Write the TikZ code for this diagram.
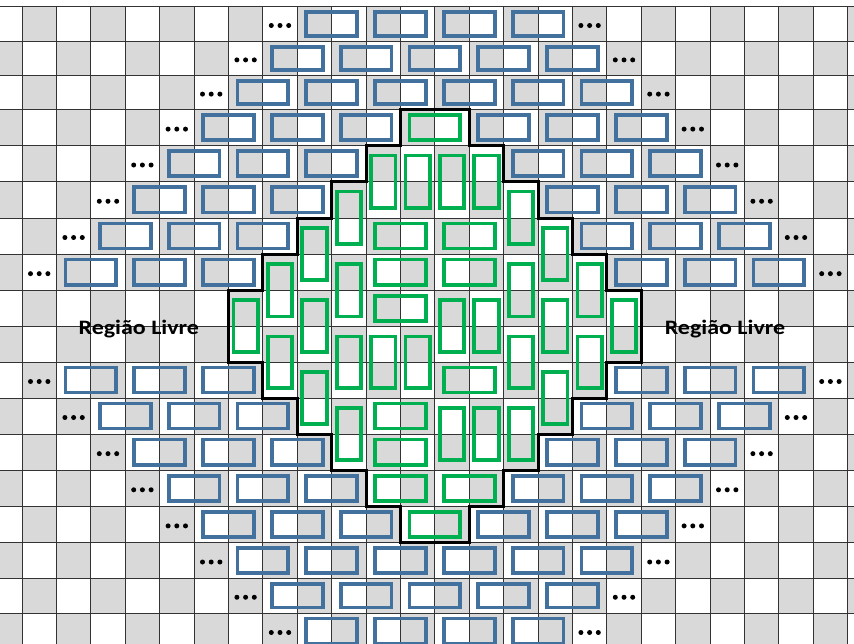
\documentclass[tikz,border=0pt]{standalone}
\usepackage{graphicx}
\usepackage{fontspec}
\setmainfont{Carlito}
\definecolor{cellgray}{HTML}{D9D9D9}
\definecolor{domblue}{HTML}{41719C}
\definecolor{domgreen}{HTML}{00B050}
\def\RY{{6.7,41.3,75.5,109.7,145.5,181.5,218,254,290.3,326.5,362,398,434,470.3,506.3,542.5,578.5,613,649}}
\tikzset{
  bluebox/.style={draw=domblue,line width=3.8pt},
  greenbox/.style={draw=domgreen,line width=3.8pt},
  gridline/.style={draw=black!80,line width=0.9pt},
  border/.style={draw=black,line width=3pt,line join=miter},
  dotmark/.style={fill=black},
  freelabel/.style={font=\bfseries\fontsize{20.5}{24}\selectfont,inner sep=0pt,anchor=base}
}
% horizontal domino (blue or green): #1 style, #2 row, #3 left column
\newcommand\hdomino[3]{%
  \pgfmathsetmacro\xa{-12.4+34.4*#3+9}%
  \pgfmathsetmacro\xb{-12.4+34.4*(#3+2)-9}%
  \pgfmathsetmacro\ya{\RY[#2]+5.5}%
  \pgfmathsetmacro\yb{\RY[#2+1]-5.5}%
  \draw[#1] (\xa,\ya) rectangle (\xb,\yb);}
% vertical domino: #1 top row, #2 column
\newcommand\vdomino[2]{%
  \pgfmathsetmacro\xa{-12.4+34.4*#2+5}%
  \pgfmathsetmacro\xb{-12.4+34.4*(#2+1)-5}%
  \pgfmathsetmacro\ya{\RY[#1]+10}%
  \pgfmathsetmacro\yb{\RY[#1+2]-10}%
  \draw[greenbox] (\xa,\ya) rectangle (\xb,\yb);}
% ellipsis dots: #1 row, #2 column
\newcommand\celldots[2]{%
  \pgfmathsetmacro\xc{-12.4+34.4*#2+17.2}%
  \pgfmathsetmacro\ya{\RY[#1]}%
  \pgfmathsetmacro\yb{\RY[#1+1]}%
  \pgfmathsetmacro\yc{0.5*\ya+0.5*\yb+1.5}%
  \foreach \d in {-8.7,0,8.7}{\fill[dotmark] (\xc+\d,\yc) circle (2.5pt);}}
\begin{document}
\begin{tikzpicture}[x=1pt,y=-1pt]
\useasboundingbox (0,0) rectangle (854,643);
\fill[white] (0,0) rectangle (854,643);
\begin{scope}
\clip (0,0) rectangle (854,643);
% checkerboard
\foreach \i in {0,...,17}{
  \foreach \j in {0,...,25}{
    \pgfmathtruncatemacro\oddcell{mod(\i+\j,2)}
    \ifnum\oddcell=1
      \pgfmathsetmacro\xa{-12.4+34.4*\j}
      \pgfmathsetmacro\xb{\xa+34.4}
      \pgfmathsetmacro\ya{\RY[\i]}
      \pgfmathsetmacro\yb{\RY[\i+1]}
      \fill[cellgray] (\xa,\ya) rectangle (\xb,\yb);
    \fi
  }
}
% grid lines
\foreach \j in {1,...,25}{
  \pgfmathsetmacro\xa{-12.4+34.4*\j}
  \draw[gridline] (\xa,6.7) -- (\xa,650);
}
\foreach \i in {0,...,17}{
  \pgfmathsetmacro\ya{\RY[\i]}
  \draw[gridline] (-1,\ya) -- (856,\ya);
}
% central region outline
\draw[border] (400.4,109.7) -- (469.2,109.7) -- (469.2,145.5) -- (503.6,145.5) -- (503.6,181.5) -- (538,181.5) -- (538,218) -- (572.4,218) -- (572.4,254) -- (606.8,254) -- (606.8,290.3) -- (641.2,290.3) -- (641.2,362) -- (606.8,362) -- (606.8,398) -- (572.4,398) -- (572.4,434) -- (538,434) -- (538,470.3) -- (503.6,470.3) -- (503.6,506.3) -- (469.2,506.3) -- (469.2,542.5) -- (400.4,542.5) -- (400.4,506.3) -- (366,506.3) -- (366,470.3) -- (331.6,470.3) -- (331.6,434) -- (297.2,434) -- (297.2,398) -- (262.8,398) -- (262.8,362) -- (228.4,362) -- (228.4,290.3) -- (262.8,290.3) -- (262.8,254) -- (297.2,254) -- (297.2,218) -- (331.6,218) -- (331.6,181.5) -- (366,181.5) -- (366,145.5) -- (400.4,145.5) -- cycle;
% blue dominoes, full rows
\foreach \i in {0,1,2}{
  \pgfmathtruncatemacro\n{3+\i}
  \foreach \k in {0,...,\n}{
    \pgfmathtruncatemacro\c{9-\i+2*\k}
    \hdomino{bluebox}{\i}{\c}
  }
}
\foreach \r in {0,1,2}{
  \pgfmathtruncatemacro\i{17-\r}
  \pgfmathtruncatemacro\n{3+\r}
  \foreach \k in {0,...,\n}{
    \pgfmathtruncatemacro\c{9-\r+2*\k}
    \hdomino{bluebox}{\i}{\c}
  }
}
% blue dominoes, split rows
\foreach \r in {3,...,7}{
  \pgfmathtruncatemacro\ib{17-\r}
  \foreach \k in {0,1,2}{
    \pgfmathtruncatemacro\cl{9-\r+2*\k}
    \pgfmathtruncatemacro\cr{11+\r+2*\k}
    \hdomino{bluebox}{\r}{\cl}
    \hdomino{bluebox}{\r}{\cr}
    \hdomino{bluebox}{\ib}{\cl}
    \hdomino{bluebox}{\ib}{\cr}
  }
}
% dots
\foreach \r in {0,...,7}{
  \pgfmathtruncatemacro\ib{17-\r}
  \pgfmathtruncatemacro\cl{8-\r}
  \pgfmathtruncatemacro\cr{17+\r}
  \celldots{\r}{\cl}
  \celldots{\r}{\cr}
  \celldots{\ib}{\cl}
  \celldots{\ib}{\cr}
}
% green horizontal dominoes (row, left column)
\foreach \i/\c in {3/12,6/11,6/13,7/11,7/13,8/11,10/13,11/11,12/11,13/11,13/13,14/12}{
  \hdomino{greenbox}{\i}{\c}
}
% green vertical dominoes (top row, column)
\foreach \i/\c in {4/11,4/12,4/13,4/14,5/10,5/15,6/9,6/16,7/10,7/15,7/8,7/17,8/7,8/18,8/9,8/13,8/14,8/16,9/8,9/17,9/10,9/11,9/12,9/15,10/9,10/16,11/10,11/13,11/14,11/15}{
  \vdomino{\i}{\c}
}
\end{scope}
\node[freelabel] (livreL) at (138.8,334.3) {\scalebox{1.17}[1]{Região Livre}};
\node[freelabel] (livreR) at (725,334.3) {\scalebox{1.17}[1]{Região Livre}};
\end{tikzpicture}
\end{document}
